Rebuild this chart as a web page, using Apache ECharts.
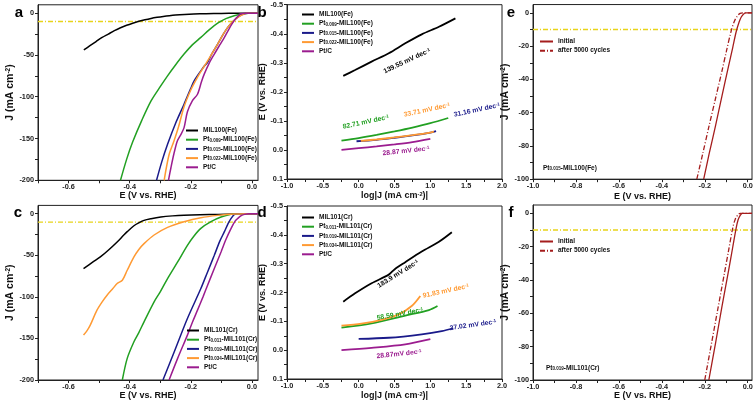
<!DOCTYPE html>
<html><head><meta charset="utf-8">
<script src="https://cdn.jsdelivr.net/npm/echarts@6/dist/echarts.min.js"></script>
<style>html,body{margin:0;padding:0;background:#fff}#c{width:755px;height:406px}</style>
</head><body><div id="c"></div>
<script>
// ---------------- DATA ----------------
// Panel a: LSV, MIL100(Fe) series  [E (V vs RHE), J (mA cm-2)]
const aMIL100 = [[-0.55,-44],[-0.53,-39],[-0.51,-34],[-0.49,-29],[-0.47,-25],[-0.45,-21],[-0.43,-17.5],[-0.41,-14.5],[-0.39,-12],[-0.37,-9.8],[-0.35,-7.9],[-0.33,-6.3],[-0.31,-5],[-0.29,-3.9],[-0.27,-3],[-0.25,-2.3],[-0.22,-1.6],[-0.19,-1.1],[-0.15,-0.6],[-0.1,-0.3],[-0.05,-0.1],[0,0],[0.02,0]];
const aPt009 = [[-0.43,-200],[-0.41,-175],[-0.39,-154],[-0.36,-128],[-0.33,-105],[-0.3,-88],[-0.276,-75],[-0.25,-62],[-0.222,-49],[-0.195,-38],[-0.167,-29],[-0.14,-20],[-0.112,-12],[-0.085,-6.5],[-0.058,-3],[-0.03,-0.8],[-0.01,0],[0.02,0]];
const aPt015 = [[-0.312,-200],[-0.295,-178],[-0.276,-157],[-0.25,-132],[-0.222,-109],[-0.2,-90],[-0.189,-81],[-0.167,-69],[-0.155,-63],[-0.145,-59],[-0.13,-48],[-0.112,-37],[-0.095,-26],[-0.079,-17],[-0.062,-10],[-0.046,-4.8],[-0.03,-1.5],[-0.015,0],[0.02,0]];
const aPt022 = [[-0.287,-200],[-0.28,-185],[-0.27,-168],[-0.255,-153],[-0.24,-136],[-0.222,-112],[-0.2,-92],[-0.18,-78],[-0.167,-70],[-0.15,-60],[-0.13,-48],[-0.112,-37],[-0.095,-26],[-0.079,-17],[-0.062,-10],[-0.046,-5],[-0.03,-1.8],[-0.018,0],[0.02,0]];
const aPtC = [[-0.273,-200],[-0.265,-185],[-0.255,-168],[-0.244,-153],[-0.232,-145],[-0.222,-137],[-0.211,-118],[-0.195,-105],[-0.178,-97],[-0.165,-82],[-0.156,-73],[-0.14,-60],[-0.123,-49],[-0.105,-38],[-0.09,-29],[-0.075,-19],[-0.058,-9],[-0.045,-3.5],[-0.036,-0.8],[-0.02,0],[0.02,0]];
// Panel c: LSV, MIL101(Cr) series
const cMIL101 = [[-0.551,-66],[-0.52,-58],[-0.496,-52],[-0.47,-44],[-0.441,-34],[-0.42,-26],[-0.408,-21.6],[-0.386,-14.5],[-0.37,-11],[-0.353,-8],[-0.33,-6],[-0.298,-4],[-0.26,-2.6],[-0.222,-1.7],[-0.17,-1.1],[-0.11,-0.8],[-0.06,-0.3],[-0.03,0],[0.02,0]];
const cPt011 = [[-0.424,-200],[-0.408,-174],[-0.386,-154],[-0.37,-143],[-0.353,-130],[-0.32,-106],[-0.3,-94],[-0.276,-78],[-0.243,-58],[-0.211,-38],[-0.19,-27],[-0.167,-17.6],[-0.134,-9.6],[-0.101,-4],[-0.068,-0.8],[-0.04,0],[0.02,0]];
const cPt019 = [[-0.291,-200],[-0.254,-166],[-0.211,-126],[-0.167,-90],[-0.145,-70],[-0.123,-50],[-0.105,-33],[-0.09,-21.6],[-0.078,-12],[-0.068,-5.6],[-0.057,-0.8],[-0.045,0],[0.02,0]];
const cPt034 = [[-0.551,-146],[-0.54,-141],[-0.529,-134],[-0.507,-116],[-0.49,-106],[-0.474,-98],[-0.455,-90],[-0.441,-84],[-0.424,-80],[-0.408,-68],[-0.386,-52],[-0.37,-43],[-0.353,-36],[-0.32,-25.6],[-0.276,-16.4],[-0.222,-9.6],[-0.167,-4.8],[-0.112,-2],[-0.057,-0.4],[0,0],[0.02,0]];
const cPtC = [[-0.271,-200],[-0.243,-174],[-0.211,-146],[-0.194,-130],[-0.178,-116],[-0.16,-100],[-0.145,-86],[-0.123,-66],[-0.101,-46],[-0.085,-31],[-0.068,-17.6],[-0.055,-9],[-0.046,-5.6],[-0.035,-2.4],[-0.024,-0.8],[-0.01,0],[0.02,0]];
// Panel b: Tafel, [log|J|, E]
const bMIL100 = [[-0.215,-0.255],[-0.05,-0.275],[0.18,-0.304],[0.42,-0.333],[0.65,-0.367],[0.88,-0.398],[1.12,-0.424],[1.35,-0.453]];
const bPt009 = [[-0.24,-0.032],[0,-0.041],[0.25,-0.052],[0.5,-0.064],[0.75,-0.077],[1.0,-0.092],[1.25,-0.11]];
const bPt015 = [[-0.03,-0.03],[0.25,-0.035],[0.5,-0.042],[0.75,-0.05],[1.0,-0.06],[1.08,-0.065]];
const bPt022 = [[0.03,-0.031],[0.25,-0.036],[0.5,-0.043],[0.75,-0.051],[1.0,-0.06],[1.05,-0.063]];
const bPtC = [[-0.24,0.0],[0,-0.006],[0.25,-0.012],[0.5,-0.019],[0.75,-0.027],[1.0,-0.038]];
// Panel d: Tafel
const dMIL101 = [[-0.215,-0.168],[-0.05,-0.197],[0.18,-0.232],[0.42,-0.262],[0.5,-0.28],[0.65,-0.305],[0.88,-0.342],[1.12,-0.376],[1.3,-0.409]];
const dPt011 = [[-0.24,-0.078],[0.18,-0.093],[0.65,-0.12],[0.98,-0.139],[1.1,-0.153]];
const dPt019 = [[0,-0.039],[0.42,-0.043],[0.88,-0.055],[1.16,-0.066],[1.32,-0.076]];
const dPt034 = [[-0.24,-0.085],[0.04,-0.092],[0.32,-0.105],[0.56,-0.124],[0.74,-0.153],[0.86,-0.188]];
const dPtC = [[-0.24,0],[0.18,-0.008],[0.65,-0.02],[1.0,-0.038]];
// Panel e / f: stability
const eInitial = [[-0.205,-100],[-0.18,-85],[-0.15,-68],[-0.12,-50],[-0.09,-32.5],[-0.07,-21],[-0.054,-11.5],[-0.04,-5.5],[-0.03,-2.5],[-0.02,-0.8],[-0.01,0],[0.02,0]];
const eAfter = [[-0.237,-100],[-0.21,-85],[-0.18,-68],[-0.15,-51.5],[-0.12,-35],[-0.1,-23.5],[-0.078,-11.4],[-0.062,-5],[-0.048,-1.8],[-0.035,-0.3],[-0.02,0],[0.02,0]];
const fInitial = [[-0.181,-100],[-0.15,-78],[-0.12,-56],[-0.09,-35],[-0.07,-20.5],[-0.054,-9],[-0.045,-4],[-0.035,-1.2],[-0.025,0],[0.02,0]];
const fAfter = [[-0.2,-100],[-0.17,-79],[-0.14,-58],[-0.11,-37],[-0.09,-23],[-0.07,-9],[-0.058,-3.5],[-0.045,-0.8],[-0.035,0],[0.02,0]];
const REF_J = -10;
// axis ranges, ticks, labels
const LSV_X = [-0.7, 0.02], LSV_Y = [-200, 10];
const TAF_X = [-1, 2], TAF_Y = [-0.5, 0.1];
const ST_X = [-1, 0.02], ST_Y = [-100, 5];
const lsvXLabels = [-0.6,-0.4,-0.2,0];
const lsvXTicks = [-0.7,-0.6,-0.5,-0.4,-0.3,-0.2,-0.1,0];
const lsvYLabels = [-200,-150,-100,-50,0];
const lsvYTicks = [-200,-175,-150,-125,-100,-75,-50,-25,0];
const tafXLabels = [-1,-0.5,0,0.5,1,1.5,2];
const tafXTicks = [-1,-0.75,-0.5,-0.25,0,0.25,0.5,0.75,1,1.25,1.5,1.75,2];
const tafYLabels = [-0.5,-0.4,-0.3,-0.2,-0.1,0,0.1];
const tafYTicks = [-0.5,-0.45,-0.4,-0.35,-0.3,-0.25,-0.2,-0.15,-0.1,-0.05,0,0.05,0.1];
const stXLabels = [-1,-0.8,-0.6,-0.4,-0.2,0];
const stXTicks = [-1,-0.9,-0.8,-0.7,-0.6,-0.5,-0.4,-0.3,-0.2,-0.1,0];
const stYLabels = [-100,-80,-60,-40,-20,0];
const stYTicks = [-100,-90,-80,-70,-60,-50,-40,-30,-20,-10,0];

// ---------------- STYLE ----------------
const FONT = '"Liberation Sans", Arial, sans-serif';
const C_BLACK='#000000', C_GREEN='#22a022', C_NAVY='#1a1a8a', C_ORANGE='#ff9a33', C_PURPLE='#9b1c8f', C_RED='#a51d1d', C_YEL='#e8d41a';
const AX = '#222';
function nameStyle(fs){ return {fontSize:fs, fontWeight:'bold', color:'#111', fontFamily:FONT,
  rich:{sup:{fontSize:fs*0.62, fontWeight:'bold', color:'#111', verticalAlign:'top', fontFamily:FONT}}}; }

function fx1(v){ return (Math.abs(v)<1e-9?0:v).toFixed(1); }
function fint(v){ return String(Math.round(v)); }

function mkAxis(dim, gi, range, labels, ticks, fmt, name, gap, fs, inverse){
  return {type:'value', gridIndex:gi, min:range[0], max:range[1], inverse:!!inverse,
    axisLine:{show:true, onZero:false, lineStyle:{color:AX, width:1}},
    axisTick:{show:true, length:3, customValues:ticks, lineStyle:{color:AX, width:1}},
    axisLabel:{customValues:labels, formatter:fmt, fontSize:7.3, fontWeight:'bold', color:'#222', fontFamily:FONT, margin:dim==='x'?3:4},
    splitLine:{show:false},
    name, nameLocation:'middle', nameGap:gap, nameTextStyle:nameStyle(fs)};
}

const legText = {fontSize:6.5, fontWeight:'bold', color:'#111', fontFamily:FONT,
  rich:{sub:{fontSize:4.5, fontWeight:'bold', color:'#111', verticalAlign:'bottom', fontFamily:FONT}}};
function legFmt(n){ return n.replace(/^Pt([\d.]+)-/, 'Pt{sub|$1}-'); }
function mkLegend(names, left, top, w){
  return {data:names, left, top, orient:'vertical', itemWidth:w, itemHeight:6, itemGap:2.2, padding:0,
    selectedMode:false, textStyle:legText, formatter:legFmt,
    itemStyle:{color:'rgba(0,0,0,0)', borderColor:'rgba(0,0,0,0)', borderWidth:0, opacity:0}};
}

function line(name, data, color, xi, width, type){
  return {type:'line', name, data, xAxisIndex:xi, yAxisIndex:xi, symbol:'none', smooth:0.3,
    lineStyle:{color, width:width||1.5, type:type||'solid'}, itemStyle:{color}, silent:true, z:3};
}
function refSeries(xi, xr){
  return {type:'line', name:'ref'+xi, data:[[xr[0],REF_J],[xr[1],REF_J]], xAxisIndex:xi, yAxisIndex:xi,
    symbol:'none', silent:true, z:2, lineStyle:{color:C_YEL, width:1.3, type:[5,2,1,2]}, itemStyle:{color:C_YEL}};
}

const nA = ['MIL100(Fe)','Pt0.009-MIL100(Fe)','Pt0.015-MIL100(Fe)','Pt0.022-MIL100(Fe)','Pt/C'];
const nC = ['MIL101(Cr)','Pt0.011-MIL101(Cr)','Pt0.019-MIL101(Cr)','Pt0.034-MIL101(Cr)','Pt/C'];
const nE = ['initial','after 5000 cycles'];

const grids = [
  {left:38, top:4.79, width:220, height:175.5},
  {left:287, top:4.7, width:215, height:174.3},
  {left:533, top:4.56, width:219, height:174.6},
  {left:38, top:205.4, width:220, height:174.6},
  {left:287, top:206, width:215, height:173},
  {left:533, top:205, width:219, height:175}
].map(g=>Object.assign(g,{show:true, borderColor:AX, borderWidth:1, outerBoundsMode:'none', containLabel:false}));

const Jname = 'J (mA cm{sup|-2})';
const xAxes = [
  mkAxis('x',0,LSV_X,lsvXLabels,lsvXTicks,fx1,'E (V vs. RHE)',11,9),
  mkAxis('x',1,TAF_X,tafXLabels,tafXTicks,fx1,'log|J (mA cm{sup|-2})|',12,9),
  mkAxis('x',2,ST_X,stXLabels,stXTicks,fx1,'E (V vs. RHE)',13,9),
  mkAxis('x',3,LSV_X,lsvXLabels,lsvXTicks,fx1,'E (V vs. RHE)',11,9),
  mkAxis('x',4,TAF_X,tafXLabels,tafXTicks,fx1,'log|J (mA cm{sup|-2})|',12,9),
  mkAxis('x',5,ST_X,stXLabels,stXTicks,fx1,'E (V vs. RHE)',11,9)
];
const yAxes = [
  mkAxis('y',0,LSV_Y,lsvYLabels,lsvYTicks,fint,Jname,21,10.5),
  mkAxis('y',1,TAF_Y,tafYLabels,tafYTicks,fx1,'E (V vs. RHE)',18,9,true),
  mkAxis('y',2,ST_Y,stYLabels,stYTicks,fint,Jname,19,10.5),
  mkAxis('y',3,LSV_Y,lsvYLabels,lsvYTicks,fint,Jname,21,10.5),
  mkAxis('y',4,TAF_Y,tafYLabels,tafYTicks,fx1,'E (V vs. RHE)',18,9,true),
  mkAxis('y',5,ST_Y,stYLabels,stYTicks,fint,Jname,19,10.5)
];

const series = [
  refSeries(0, LSV_X), refSeries(2, ST_X), refSeries(3, LSV_X), refSeries(5, ST_X),
  line(nA[0], aMIL100, C_BLACK, 0),
  line(nA[1], aPt009, C_GREEN, 0),
  line(nA[2], aPt015, C_NAVY, 0),
  line(nA[3], aPt022, C_ORANGE, 0),
  line(nA[4], aPtC, C_PURPLE, 0),
  line(nA[0], bMIL100, C_BLACK, 1, 1.8),
  line(nA[1], bPt009, C_GREEN, 1, 1.8),
  line(nA[2], bPt015, C_NAVY, 1, 1.8),
  line(nA[3], bPt022, C_ORANGE, 1, 1.8),
  line(nA[4], bPtC, C_PURPLE, 1, 1.8),
  line(nE[0], eInitial, C_RED, 2, 1.3),
  line(nE[1], eAfter, C_RED, 2, 1.3, [5,2,1,2]),
  line(nC[0], cMIL101, C_BLACK, 3),
  line(nC[1], cPt011, C_GREEN, 3),
  line(nC[2], cPt019, C_NAVY, 3),
  line(nC[3], cPt034, C_ORANGE, 3),
  line(nC[4], cPtC, C_PURPLE, 3),
  line(nC[0], dMIL101, C_BLACK, 4, 1.8),
  line(nC[1], dPt011, C_GREEN, 4, 1.8),
  line(nC[2], dPt019, C_NAVY, 4, 1.8),
  line(nC[3], dPt034, C_ORANGE, 4, 1.8),
  line(nC[4], dPtC, C_PURPLE, 4, 1.8),
  line(nE[0], fInitial, C_RED, 5, 1.3),
  line(nE[1], fAfter, C_RED, 5, 1.3, [5,2,1,2])
];

const legends = [
  mkLegend(nA, 185, 127, 12),
  mkLegend(nA, 301, 11, 12),
  mkLegend(nE, 539, 38, 13),
  mkLegend(nC, 186, 327, 12),
  mkLegend(nC, 301, 214, 12),
  mkLegend(nE, 539, 238, 13)
];

function letter(t,x,y){ return {type:'text', x, y, style:{text:t, font:'bold 15px '+FONT, fill:'#000', align:'center', verticalAlign:'middle'}}; }
function note(t,x,y,deg,color){
  return {type:'text', x, y, rotation:deg*Math.PI/180, z:10,
    style:{text:t, font:'bold 6.8px '+FONT, fill:color, align:'center', verticalAlign:'middle',
      rich:{sup:{fontSize:4.5, fontWeight:'bold', verticalAlign:'top', fontFamily:FONT, fill:color}}}};
}
function subLabel(t,x,y){
  return {type:'text', x, y, z:10, style:{text:t, font:'bold 6.5px '+FONT, fill:'#111', align:'left', verticalAlign:'middle',
    rich:{sub:{fontSize:4.5, fontWeight:'bold', verticalAlign:'bottom', fontFamily:FONT, fill:'#111'}}}};
}
const graphic = [
  letter('a',19,13), letter('b',262,13), letter('e',511,13),
  letter('c',18,213), letter('d',262,213), letter('f',511,213),
  note('139.55 mV dec{sup|-1}',407,61,25,C_BLACK),
  note('82.71 mV dec{sup|-1}',366,122,12,C_GREEN),
  note('33.71 mV dec{sup|-1}',427,110,12,C_ORANGE),
  note('31.16 mV dec{sup|-1}',477,110,12,C_NAVY),
  note('28.87 mV dec{sup|-1}',406,151,6,C_PURPLE),
  note('183.9 mV dec{sup|-1}',398,274,32,C_BLACK),
  note('91.83 mV dec{sup|-1}',446,291,12,C_ORANGE),
  note('58.59 mV dec{sup|-1}',400,314,10,C_GREEN),
  note('27.02 mV dec{sup|-1}',473,325,8,C_NAVY),
  note('28.87mV dec{sup|-1}',399,354,6,C_PURPLE),
  subLabel('Pt{sub|0.015}-MIL100(Fe)',543,168),
  subLabel('Pt{sub|0.019}-MIL101(Cr)',546,368)
];

const chart = echarts.init(document.getElementById('c'), null, {renderer:'canvas'});
chart.setOption({animation:false, backgroundColor:'#fff', grid:grids, xAxis:xAxes, yAxis:yAxes, series, legend:legends, graphic});
</script></body></html>
